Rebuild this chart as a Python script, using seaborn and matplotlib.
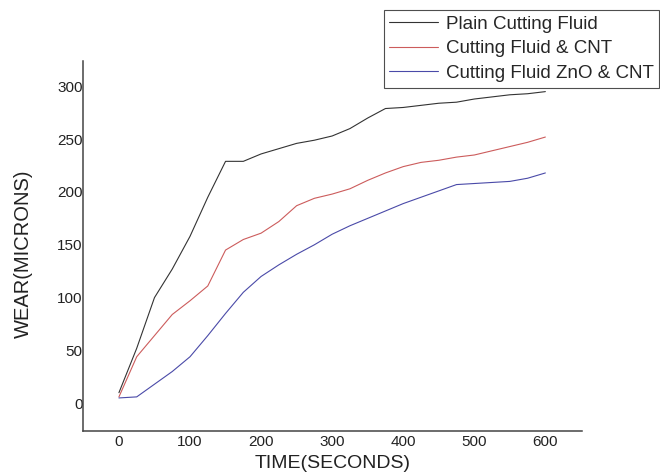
import matplotlib
matplotlib.use("Agg")
import matplotlib.pyplot as plt
import seaborn as sns
import pandas as pd

# time in seconds, wear in microns
time_s = [0, 25, 50, 75, 100, 125, 150, 175, 200, 225, 250, 275, 300,
          325, 350, 375, 400, 425, 450, 475, 500, 525, 550, 575, 600]
plain_fluid = [10, 52, 100, 127, 158, 195, 229, 229, 236, 241, 246, 249, 253,
               260, 270, 279, 280, 282, 284, 285, 288, 290, 292, 293, 295]
fluid_cnt = [6, 44, 64, 84, 97, 111, 145, 155, 161, 172, 187, 194, 198,
             203, 211, 218, 224, 228, 230, 233, 235, 239, 243, 247, 252]
fluid_zno_cnt = [5, 6, 18, 30, 44, 64, 85, 105, 120, 131, 141, 150, 160,
                 168, 175, 182, 189, 195, 201, 207, 208, 209, 210, 213, 218]
series_names = ['Plain Cutting Fluid', 'Cutting Fluid & CNT', 'Cutting Fluid ZnO & CNT']

rows = {'time': [], 'wear': [], 'fluid': []}
for name, values in zip(series_names, [plain_fluid, fluid_cnt, fluid_zno_cnt]):
    for t, w in zip(time_s, values):
        rows['time'].append(t)
        rows['wear'].append(w)
        rows['fluid'].append(name)
df = pd.DataFrame.from_dict(rows)

sns.set_style("white")
plt.rcParams['font.family'] = ['Liberation Sans', 'DejaVu Sans']

fig = plt.figure(figsize=(6.6, 4.75), dpi=100)
ax = fig.add_axes([0.1253, 0.0933, 0.7570, 0.7783])
palette = {'Plain Cutting Fluid': '#333333',
           'Cutting Fluid & CNT': '#cc5c5c',
           'Cutting Fluid ZnO & CNT': '#4a4aa8'}
sns.lineplot(data=df, x='time', y='wear', hue='fluid', palette=palette,
             linewidth=0.8, ax=ax, legend=False)

ax.set_xlim(-51, 652)
ax.set_ylim(-26, 324)
ax.set_xticks(range(0, 601, 100))
ax.set_yticks(range(0, 301, 50))
ax.tick_params(axis='both', length=0, labelsize=11, colors='#222222')
ax.tick_params(axis='y', pad=0)
ax.tick_params(axis='x', pad=3)
sns.despine(ax=ax)
for side in ['left', 'bottom']:
    ax.spines[side].set_color('#444444')
    ax.spines[side].set_linewidth(1.1)

ax.set_xlabel('TIME(SECONDS)', fontsize=14, color='#222222')
ax.set_ylabel('WEAR(MICRONS)', fontsize=14.5, color='#222222')
ax.xaxis.set_label_coords(0.5, -0.066)
ax.yaxis.set_label_coords(-0.0995, 0.478)

handles = [plt.Line2D([], [], color=palette[n], linewidth=0.8) for n in series_names]
leg = fig.legend(handles, series_names, loc='upper right',
                 bbox_to_anchor=(0.9985, 0.979), fontsize=13.5,
                 frameon=True, fancybox=False, borderaxespad=0,
                 handlelength=2.6, handletextpad=0.4, labelspacing=0.4,
                 borderpad=0.3)
leg.get_frame().set_edgecolor('#222222')
leg.get_frame().set_linewidth(0.8)

fig.savefig('out.png', dpi=100)
